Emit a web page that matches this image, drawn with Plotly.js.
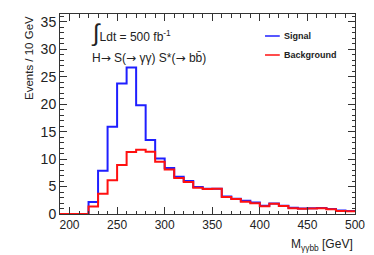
<!DOCTYPE html>
<html>
<head>
<meta charset="utf-8">
<script src="https://cdn.plot.ly/plotly-3.0.1.min.js"></script>
<style>html,body{margin:0;padding:0;background:#fff;}#chart{width:374px;height:255px;}</style>
</head>
<body>
<div id="chart"></div>
<script>
// Bin edges: 190 to 500 GeV in 10 GeV bins
var binEdges = [190,200,210,220,230,240,250,260,270,280,290,300,310,320,330,340,350,360,370,380,390,400,410,420,430,440,450,460,470,480,490,500];
var signal = [0,0,0,2.2,7.9,15.9,23.8,26.7,19.8,13.5,10.1,8.4,6.8,6.0,4.9,4.6,4.6,3.2,2.8,2.4,2.1,1.5,1.9,1.5,1.15,1.0,1.05,1.1,0.9,0.65,0.55];
var background = [0,0,0,1.35,3.7,6.15,8.95,11.3,11.7,11.35,9.5,8.1,6.55,5.85,4.8,4.55,4.6,3.1,2.75,2.25,1.95,1.4,1.85,1.45,1.05,0.95,1.0,1.05,0.85,0.55,0.5];
var seriesNames = ['Signal','Background'];
var seriesColors = ['#1f1fff','#ff1010'];

function stepY(v){ return v.concat([v[v.length-1]]); }

var traces = [
  {x: binEdges, y: stepY(signal), type:'scatter', mode:'lines', name:seriesNames[0],
   line:{shape:'hv', color:seriesColors[0], width:2}},
  {x: binEdges, y: stepY(background), type:'scatter', mode:'lines', name:seriesNames[1],
   line:{shape:'hv', color:seriesColors[1], width:2}}
];

var font = 'Liberation Sans, Arial, Helvetica, sans-serif';
var arrow = '<span style="font-family:DejaVu Sans">→</span>';

// manual legend (short line samples like the reference)
var legendShapes = [], legendAnn = [];
var legY = [0.89, 0.795];
for (var i = 0; i < seriesNames.length; i++) {
  legendShapes.push({type:'line', xref:'paper', yref:'paper', x0:0.695, x1:0.745, y0:legY[i], y1:legY[i],
    line:{color:seriesColors[i], width:1.5}});
  legendAnn.push({xref:'paper', yref:'paper', x:0.753, y:legY[i], xanchor:'left', yanchor:'middle', showarrow:false,
    text:'<b>'+seriesNames[i]+'</b>', font:{size:9, color:'#222'}});
}

var layout = {
  width:374, height:255,
  margin:{l:60, r:19, t:14, b:41},
  paper_bgcolor:'#fff', plot_bgcolor:'#fff',
  font:{family:font, color:'#000'},
  showlegend:false,
  xaxis:{range:[190,500], dtick:50, tick0:0, ticks:'inside', ticklen:7, tickcolor:'#333',
    mirror:'allticks', showline:true, linecolor:'#333', linewidth:1, showgrid:false, zeroline:false,
    tickfont:{size:12, color:'#222'},
    minor:{dtick:10, ticks:'inside', ticklen:3.5, tickcolor:'#333', showgrid:false}},
  yaxis:{range:[0,36.45], dtick:5, tick0:0, ticks:'inside', ticklen:7, tickcolor:'#333',
    mirror:'allticks', showline:true, linecolor:'#333', linewidth:1, showgrid:false, zeroline:false,
    tickfont:{size:14, color:'#222'},
    minor:{dtick:1, ticks:'inside', ticklen:3.5, tickcolor:'#333', showgrid:false}},
  shapes: legendShapes,
  annotations:[
    {xref:'paper', yref:'paper', x:1, y:-0.105, xanchor:'right', yanchor:'top', showarrow:false,
     text:'M<sub>γγbb</sub> [GeV]', font:{size:12, color:'#222'}},
    {xref:'paper', yref:'paper', x:-0.105, y:1, xanchor:'center', yanchor:'top', textangle:-90, showarrow:false,
     text:'Events / 10 GeV', font:{size:11.5, color:'#222'}},
    {xref:'paper', yref:'paper', x:0.098, y:0.905, xanchor:'left', yanchor:'middle', showarrow:false,
     text:'<span style="font-size:24px">∫</span>Ldt = 500 fb<sup>-1</sup>', font:{size:12, color:'#222'}},
    {xref:'paper', yref:'paper', x:0.1, y:0.78, xanchor:'left', yanchor:'middle', showarrow:false,
     text:'H'+arrow+' S('+arrow+' γγ) S*('+arrow+' bb̄)', font:{size:12, color:'#222'}}
  ].concat(legendAnn)
};

Plotly.newPlot('chart', traces, layout, {displayModeBar:false, staticPlot:true});
</script>
</body>
</html>
